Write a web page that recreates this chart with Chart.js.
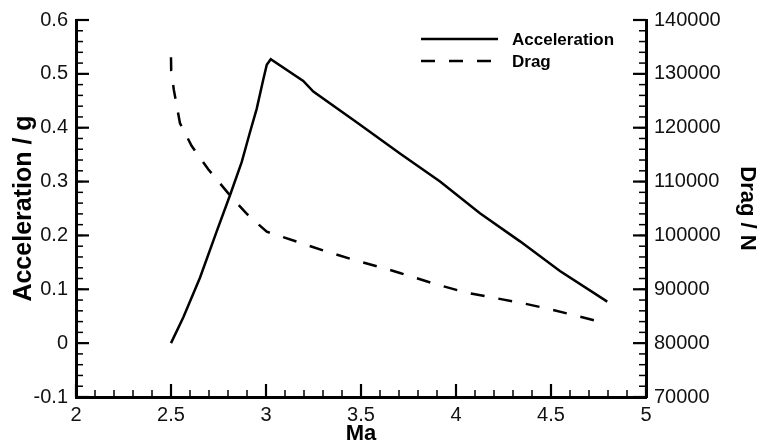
<!DOCTYPE html>
<html>
<head>
<meta charset="utf-8">
<script src="https://cdn.jsdelivr.net/npm/chart.js@4.4.0/dist/chart.umd.min.js"></script>
<style>
  html, body { margin: 0; padding: 0; background: #fff; }
  #wrap { width: 764px; height: 446px; }
</style>
</head>
<body>
<div id="wrap"><canvas id="c" width="764" height="446"></canvas></div>
<script>
// values
const machAccel = [2.5, 2.565, 2.653, 2.741, 2.811, 2.872, 2.916, 2.951, 2.986, 3.004, 3.025, 3.196, 3.249, 3.477, 3.705, 3.916, 4.126, 4.337, 4.547, 4.796]
const accel = [0, 0.048, 0.122, 0.208, 0.275, 0.336, 0.392, 0.435, 0.49, 0.517, 0.527, 0.487, 0.467, 0.41, 0.352, 0.3, 0.241, 0.189, 0.134, 0.077]

const machDrag = [2.5, 2.501, 2.515, 2.547, 2.609, 2.696, 2.811, 2.898, 3.004, 3.162, 3.319, 3.459, 3.617, 3.705, 3.898, 4.056, 4.196, 4.337, 4.495, 4.653, 4.793]
const drag = [133100, 130600, 127000, 120860, 116590, 112290, 107410, 104040, 100680, 98840, 97010, 95490, 93950, 93030, 90900, 89360, 88440, 87520, 86310, 84900, 83670]

const maTicks = [2, 2.5, 3, 3.5, 4, 4.5, 5]
const accTicks = [-0.1, 0, 0.1, 0.2, 0.3, 0.4, 0.5, 0.6]
const dragTicks = [70000, 80000, 90000, 100000, 110000, 120000, 130000, 140000]

const FONT = "'Liberation Sans', Arial, sans-serif"

const toPts = (xs, ys) => xs.map((x, i) => ({x: x, y: ys[i]}))

// inward major + minor ticks (tecplot style)
const tickMarks = {
  id: 'tickMarks',
  afterDraw(chart) {
    const {ctx, chartArea: a} = chart
    const sx = chart.scales.x, sl = chart.scales.yAcc, sr = chart.scales.yDrag

    const minors = (min, max, step) => {
      let out = []
      let n = Math.round((max - min) / step)
      for (let i = 0; i <= n; i++) out.push(min + i * step)
      return out
    }

    ctx.save()
    ctx.strokeStyle = '#000'

    const line = (x1, y1, x2, y2, w) => {
      ctx.lineWidth = w
      ctx.beginPath()
      ctx.moveTo(x1, y1)
      ctx.lineTo(x2, y2)
      ctx.stroke()
    }

    // bottom
    minors(2, 5, 0.1).forEach(v => { let p = sx.getPixelForValue(v); line(p, a.bottom, p, a.bottom - 7, 1.5) })
    maTicks.forEach(v => { let p = sx.getPixelForValue(v); line(p, a.bottom, p, a.bottom - 13, 2.2) })
    // left
    minors(-0.1, 0.6, 0.02).forEach(v => { let p = sl.getPixelForValue(v); line(a.left, p, a.left + 7, p, 1.5) })
    accTicks.forEach(v => { let p = sl.getPixelForValue(v); line(a.left, p, a.left + 13, p, 2.2) })
    // right
    minors(70000, 140000, 2000).forEach(v => { let p = sr.getPixelForValue(v); line(a.right, p, a.right - 7, p, 1.5) })
    dragTicks.forEach(v => { let p = sr.getPixelForValue(v); line(a.right, p, a.right - 13, p, 2.2) })

    ctx.restore()
  }
}

// legend in the top right of the plot
const lineLegend = {
  id: 'lineLegend',
  afterDraw(chart) {
    const ctx = chart.ctx
    ctx.save()
    chart.data.datasets.forEach((ds, i) => {
      let y = 39 + i * 22
      ctx.strokeStyle = ds.borderColor
      ctx.lineWidth = ds.borderWidth
      ctx.setLineDash(ds.borderDash || [])
      ctx.beginPath()
      ctx.moveTo(421, y)
      ctx.lineTo(498, y)
      ctx.stroke()
      ctx.setLineDash([])
      ctx.fillStyle = '#000'
      ctx.font = 'bold 17px ' + FONT
      ctx.textBaseline = 'middle'
      ctx.fillText(ds.label, 512, y + 1)
    })
    ctx.restore()
  }
}

const tickFont = {family: FONT, size: 20}
const titleFont = {family: FONT, size: 22, weight: 'bold', lineHeight: 1}

new Chart(document.getElementById('c'), {
  type: 'line',
  data: {
    datasets: [
      {
        label: 'Acceleration',
        data: toPts(machAccel, accel),
        yAxisID: 'yAcc',
        borderColor: '#000',
        borderWidth: 2.5,
        pointRadius: 0,
        tension: 0,
      },
      {
        label: 'Drag',
        data: toPts(machDrag, drag),
        yAxisID: 'yDrag',
        borderColor: '#000',
        borderWidth: 2.5,
        borderDash: [14, 14],
        pointRadius: 0,
        tension: 0,
      },
    ]
  },
  options: {
    responsive: false,
    animation: false,
    devicePixelRatio: 1,
    layout: { padding: {top: 16, left: 0, right: 0, bottom: 0} },
    plugins: {
      legend: { display: false },
      tooltip: { enabled: false },
    },
    scales: {
      x: {
        type: 'linear',
        min: 2, max: 5,
        grid: { display: false, drawTicks: false },
        border: { display: true, color: '#000', width: 3 },
        afterBuildTicks: s => { s.ticks = maTicks.map(v => ({value: v})) },
        ticks: { color: '#111', font: tickFont, padding: 6, maxRotation: 0, callback: v => String(v) },
        title: { display: true, text: 'Ma', color: '#000', font: titleFont, padding: {top: 0, bottom: 1} },
        afterFit: s => { s.height = 49 },
      },
      yAcc: {
        type: 'linear',
        position: 'left',
        min: -0.1, max: 0.6,
        grid: { display: false, drawTicks: false },
        border: { display: true, color: '#000', width: 3 },
        afterBuildTicks: s => { s.ticks = accTicks.map(v => ({value: v})) },
        ticks: { color: '#111', font: tickFont, padding: 8, callback: v => String(Math.round(v * 10) / 10) },
        title: { display: true, text: 'Acceleration / g', color: '#000', font: {family: FONT, size: 25, weight: 'bold', lineHeight: 1}, padding: {top: 12, bottom: 0} },
        afterFit: s => { s.width = 76 },
      },
      yDrag: {
        type: 'linear',
        position: 'right',
        min: 70000, max: 140000,
        grid: { display: false, drawTicks: false },
        border: { display: true, color: '#000', width: 3 },
        afterBuildTicks: s => { s.ticks = dragTicks.map(v => ({value: v})) },
        ticks: { color: '#111', font: tickFont, padding: 8, callback: v => String(v) },
        title: { display: true, text: 'Drag / N', color: '#000', font: titleFont, padding: {top: 6, bottom: 0} },
        afterFit: s => { s.width = 118 },
      },
    }
  },
  plugins: [tickMarks, lineLegend]
})
</script>
</body>
</html>
